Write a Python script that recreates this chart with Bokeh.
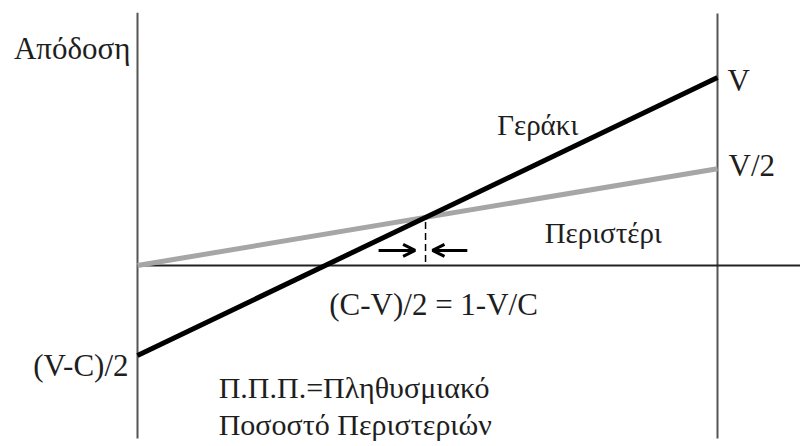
from bokeh.plotting import figure
from bokeh.models import Arrow, OpenHead, Range1d
from bokeh.core.properties import value
from bokeh.embed import file_html
from bokeh.resources import INLINE

# --- data (payoff units with V = 2) ---
pop_x = [0.0, 1.0]            # Π.Π.Π. from 0 to 1
hawk_y = [-0.957, 2.0]        # Γεράκι: (V-C)/2 -> V
dove_y = [0.0, 1.03]          # Περιστέρι: 0 -> V/2
axis_top = 2.69
axis_bottom = -1.84

def line_at(ys, x):
    return ys[0] + (ys[1] - ys[0]) * x
x_eq = (dove_y[0] - hawk_y[0]) / ((hawk_y[1] - hawk_y[0]) - (dove_y[1] - dove_y[0]))
y_eq = line_at(dove_y, x_eq)

# --- pixel geometry of the figure ---
W, H = 800, 443
sx, sy = 580.0, 94.0
x0_px, y0_px = 137.0, 265.0

p = figure(width=W, height=H, output_backend="svg", toolbar_location=None,
           x_range=Range1d(-x0_px / sx, (W - x0_px) / sx),
           y_range=Range1d((y0_px - H) / sy, y0_px / sy),
           min_border=0, min_border_left=0, min_border_right=0,
           min_border_top=0, min_border_bottom=0)
p.axis.visible = False
p.grid.visible = False
p.outline_line_color = None
p.background_fill_color = "white"
p.border_fill_color = "white"

FONT = "Liberation Serif"
TC = "#1e1e1e"

# frame lines
p.segment(x0=[pop_x[0], pop_x[1]], y0=[axis_top, axis_top - 0.01],
          x1=[pop_x[0], pop_x[1]], y1=[axis_bottom, axis_bottom],
          line_color="#555555", line_width=2)
p.segment(x0=[pop_x[0]], y0=[0], x1=[p.x_range.end], y1=[0],
          line_color="#222222", line_width=2)

# payoff lines
p.line(pop_x, dove_y, line_color="#a6a6a6", line_width=5)
p.line(pop_x, hawk_y, line_color="black", line_width=5)

# dashed equilibrium marker
p.segment(x0=[x_eq], y0=[y_eq - 0.05], x1=[x_eq], y1=[0],
          line_color="black", line_width=1.5, line_dash="7 4")

# arrows pointing at equilibrium
ay = 0.16
p.add_layout(Arrow(end=OpenHead(size=12, line_width=3, line_color="black"),
                   x_start=x_eq - 0.081, y_start=ay, x_end=x_eq - 0.018, y_end=ay,
                   line_width=3, line_color="black"))
p.add_layout(Arrow(end=OpenHead(size=12, line_width=3, line_color="black"),
                   x_start=x_eq + 0.072, y_start=ay, x_end=x_eq + 0.012, y_end=ay,
                   line_width=3, line_color="black"))

def lab(text, x, y, align="left", size="31px", xo=0):
    p.text(x=[x], y=[y], text=[text], text_align=align, text_baseline="middle",
           text_font=value(FONT), text_font_size=value(size), text_color=TC, x_offset=xo)

lab("Απόδοση", pop_x[0], 2.31, align="right", xo=-7)
lab("V", pop_x[1], hawk_y[1] - 0.03, xo=10)
lab("V/2", pop_x[1], dove_y[1] + 0.03, xo=11)
lab("Γεράκι", 0.69, 1.50, align="center", size="29px")
lab("Περιστέρι", 0.803, 0.351, align="center", size="29px")
lab("(C-V)/2 = 1-V/C", x_eq, -0.415, align="center", xo=8)
lab("(V-C)/2", pop_x[0], hawk_y[0] - 0.106, align="right", xo=-9)
lab("Π.Π.Π.=Πληθυσμιακό", 0.14, -1.30, size="30px")
lab("Ποσοστό Περιστεριών", 0.14, -1.69, size="30px")

open("out.html", "w").write(file_html(p, INLINE))
